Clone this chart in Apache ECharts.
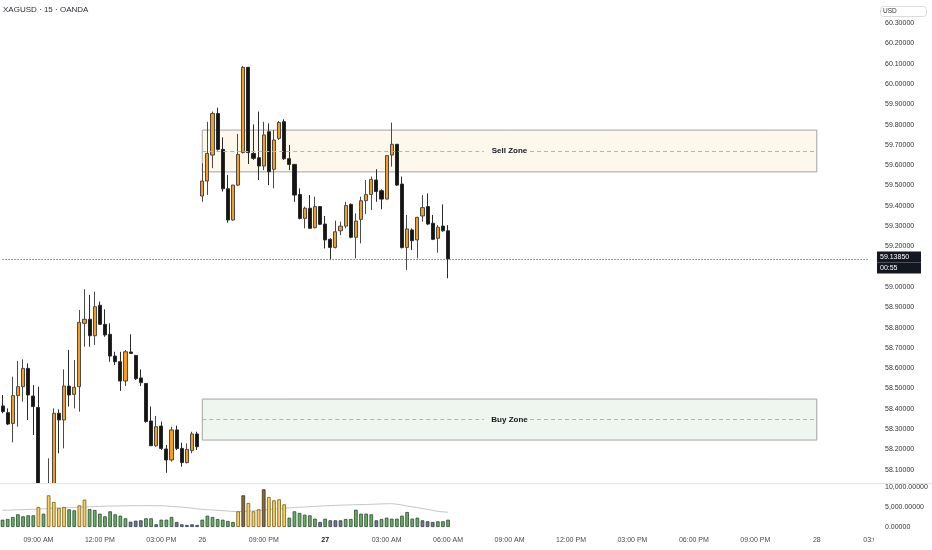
<!DOCTYPE html>
<html>
<head>
<meta charset="utf-8">
<script src="https://cdn.jsdelivr.net/npm/echarts@6/dist/echarts.min.js"></script>
<style>html,body{margin:0;padding:0;background:#fff}#c{width:932px;height:550px}</style>
</head>
<body>
<div id="c"></div>
<script>
// ---------- DATA ----------
// Friday 25th session, 15-minute candles: [open, high, low, close]
const fridayCandles = [
  [58.414, 58.468, 58.378, 58.386], [58.381, 58.402, 58.320, 58.325], [58.328, 58.558, 58.235, 58.465],
  [58.465, 58.636, 58.312, 58.509], [58.509, 58.644, 58.435, 58.599], [58.599, 58.624, 58.345, 58.468],
  [58.463, 58.517, 58.271, 58.411], [58.407, 58.509, 57.900, 57.950], [57.970, 58.030, 57.880, 57.940],
  [57.930, 58.156, 57.880, 57.990], [57.990, 58.402, 57.970, 58.378], [58.378, 58.397, 58.181, 58.345],
  [58.345, 58.594, 58.205, 58.512], [58.512, 58.690, 58.411, 58.468], [58.471, 58.640, 58.402, 58.506],
  [58.509, 58.887, 58.386, 58.826], [58.821, 58.989, 58.706, 58.841], [58.841, 58.961, 58.706, 58.760],
  [58.760, 58.977, 58.714, 58.903], [58.910, 58.928, 58.813, 58.816], [58.816, 58.890, 58.755, 58.764],
  [58.767, 58.821, 58.632, 58.660], [58.660, 58.681, 58.616, 58.632], [58.632, 58.681, 58.488, 58.537],
  [58.537, 58.690, 58.512, 58.681], [58.680, 58.767, 58.670, 58.673], [58.663, 58.665, 58.542, 58.548],
  [58.552, 58.594, 58.512, 58.529], [58.525, 58.526, 58.332, 58.337], [58.340, 58.411, 58.217, 58.218],
  [58.218, 58.365, 58.213, 58.312], [58.315, 58.337, 58.197, 58.205], [58.202, 58.222, 58.085, 58.148],
  [58.148, 58.312, 58.140, 58.296], [58.296, 58.317, 58.197, 58.205], [58.205, 58.233, 58.115, 58.135],
  [58.135, 58.230, 58.131, 58.200], [58.194, 58.287, 58.181, 58.276], [58.276, 58.287, 58.197, 58.213]
];
// Sunday 26th 18:00 onward: [open, high, low, close]
const sundayCandles = [
  [59.448, 59.609, 59.420, 59.522], [59.522, 59.814, 59.453, 59.658], [59.650, 59.864, 59.585, 59.855],
  [59.855, 59.883, 59.672, 59.678], [59.678, 59.737, 59.470, 59.484], [59.484, 59.552, 59.317, 59.330],
  [59.330, 59.503, 59.327, 59.502], [59.502, 59.754, 59.498, 59.653], [59.662, 60.089, 59.658, 60.082],
  [60.082, 60.085, 59.606, 59.662], [59.658, 59.801, 59.626, 59.634], [59.637, 59.864, 59.527, 59.596],
  [59.596, 59.814, 59.576, 59.749], [59.765, 59.806, 59.502, 59.568], [59.580, 59.773, 59.486, 59.724],
  [59.732, 59.818, 59.724, 59.810], [59.814, 59.826, 59.626, 59.632], [59.632, 59.700, 59.576, 59.604],
  [59.604, 59.605, 59.420, 59.453], [59.456, 59.486, 59.333, 59.338], [59.338, 59.396, 59.289, 59.388],
  [59.388, 59.453, 59.288, 59.289], [59.292, 59.445, 59.289, 59.396], [59.396, 59.399, 59.305, 59.309],
  [59.310, 59.350, 59.190, 59.232], [59.235, 59.240, 59.136, 59.195], [59.195, 59.327, 59.190, 59.272],
  [59.277, 59.322, 59.256, 59.300], [59.300, 59.420, 59.289, 59.401], [59.407, 59.412, 59.240, 59.245],
  [59.245, 59.363, 59.141, 59.325], [59.333, 59.445, 59.215, 59.425], [59.425, 59.527, 59.360, 59.455],
  [59.456, 59.544, 59.379, 59.530], [59.527, 59.580, 59.420, 59.470], [59.474, 59.481, 59.383, 59.433],
  [59.433, 59.648, 59.432, 59.647], [59.650, 59.810, 59.593, 59.703], [59.703, 59.704, 59.498, 59.502],
  [59.507, 59.544, 59.190, 59.194], [59.195, 59.355, 59.084, 59.286], [59.281, 59.289, 59.182, 59.228],
  [59.232, 59.346, 59.141, 59.343], [59.350, 59.453, 59.322, 59.391], [59.396, 59.461, 59.305, 59.310],
  [59.314, 59.355, 59.231, 59.235], [59.240, 59.305, 59.169, 59.294], [59.300, 59.407, 59.272, 59.277],
  [59.277, 59.305, 59.043, 59.1385]
];
const fridayVolume = [1830, 2000, 2500, 3170, 2670, 2920, 2920, 5000, 3330, 7920, 6250, 4750, 5000, 4420, 4170, 5420,
  6830, 4500, 4250, 3330, 2670, 3920, 3170, 2830, 2170, 1330, 1580, 1670, 2170, 2170, 670, 1830, 1830, 2500, 1250,
  670, 500, 670, 500];
const sundayVolume = [1830, 2830, 2500, 2000, 1830, 1500, 1250, 3920, 7920, 6000, 3920, 4420, 9420, 7500, 6670, 6920,
  5670, 2330, 3920, 3500, 3080, 2920, 2080, 1250, 2080, 1670, 1670, 1670, 2000, 2000, 4330, 3330, 3330, 3170, 1670,
  2000, 2330, 2080, 2080, 2830, 3750, 2080, 2330, 1670, 1420, 1250, 1420, 1420, 1830];
// volume class: g normal, y high, b very high, s low
const fridayVolumeClass = ['g','g','g','g','g','g','g','y','g','y','y','y','y','g','g','y','y','g','g','g','g','g','g',
  'g','g','s','s','s','g','g','s','g','g','g','s','s','s','s','s'];
const sundayVolumeClass = ['g','g','g','g','g','g','g','y','b','y','y','y','b','y','y','y','y','g','g','g','g','g','g',
  's','g','s','s','s','g','g','g','g','g','g','s','g','g','g','g','g','g','g','g','s','s','s','g','g','g'];
const volumeAverage = [4170, 4210, 4260, 4300, 4340, 4380, 4420, 4480, 4550, 4620, 4690, 4760, 4800, 4850, 4900, 4950,
  5000, 5060, 5110, 5160, 5190, 5220, 5250, 5280, 5300, 5320, 5330, 5330, 5330, 5330, 5330, 5320, 5250, 5150, 5050,
  4980, 4850, 4700, 4550, 4420, 4330, 4250, 4170, 4080, 3980, 3880, 3850, 3900, 3950, 4050, 4150, 4250, 4380, 4500,
  4600, 4700, 4800, 4870, 4930, 5000, 5080, 5150, 5220, 5280, 5330, 5400, 5450, 5500, 5530, 5570, 5600, 5630, 5670,
  5720, 5770, 5820, 5830, 5700, 5500, 5250, 5050, 4850, 4620, 4400, 4150, 3900, 3780, 3700];
const priceTicks = [58.1, 58.2, 58.3, 58.4, 58.5, 58.6, 58.7, 58.8, 58.9, 59.0, 59.2, 59.3, 59.4, 59.5, 59.6, 59.7,
  59.8, 59.9, 60.0, 60.1, 60.2, 60.3];
const tickAt = ['25 09:00', '25 12:00', '25 15:00', '26 18:00', '26 21:00', '27 00:00', '27 03:00', '27 06:00',
  '27 09:00', '27 12:00', '27 15:00', '27 18:00', '27 21:00', '28 00:00', '28 03:00'];
const tickText = ['09:00 AM', '12:00 PM', '03:00 PM', '26', '09:00 PM', '27', '03:00 AM', '06:00 AM',
  '09:00 AM', '12:00 PM', '03:00 PM', '06:00 PM', '09:00 PM', '28', '03:00 AM'];
const sellZone = [59.773, 59.567];
const buyZone = [58.448, 58.246];
const zoneFrom = '26 18:00', zoneTo = '28 00:00';
const zoneLabelGap = ['27 07:45', '27 10:00'];
const lastPrice = 59.1385;
const countdown = '00:55';
const priceRange = [58.0345, 60.4138];

// ---------- CATEGORIES (15-minute slots) ----------
function makeTimes(day, startMin, count) {
  const out = [];
  for (let i = 0; i < count; i++) {
    const m = startMin + 15 * i;
    const d = day + Math.floor(m / 1440);
    const mm = m % 1440;
    out.push(d + ' ' + String(Math.floor(mm / 60)).padStart(2, '0') + ':' + String(mm % 60).padStart(2, '0'));
  }
  return out;
}
const categories = makeTimes(25, 7 * 60 + 15, 39).concat(makeTimes(26, 18 * 60, 143));

// ---------- BUILD ----------
const allCandles = fridayCandles.concat(sundayCandles);
const candleData = allCandles.map(r => [r[0], r[3], r[2], r[1]]);
const volStyle = {
  g: { color: '#68ad68', borderColor: '#2e4a2e' },
  y: { color: '#fcd15c', borderColor: '#6e5b22' },
  b: { color: '#8d6b3c', borderColor: '#3b2c18' },
  s: { color: '#6e7c8e', borderColor: '#333b46' }
};
const volClass = fridayVolumeClass.concat(sundayVolumeClass);
const volData = fridayVolume.concat(sundayVolume).map((v, i) => ({
  value: v, itemStyle: Object.assign({ borderWidth: 0.8 }, volStyle[volClass[i]])
}));
const tickMap = {};
tickAt.forEach((c, i) => { tickMap[c] = tickText[i]; });

function zone(range, fill, label) {
  const mid = (range[0] + range[1]) / 2;
  return {
    area: [{ coord: [zoneFrom, range[0]], itemStyle: { color: fill, borderColor: '#a3a3a3', borderWidth: 1 },
             label: { show: true, position: 'inside', formatter: label, fontSize: 8, fontWeight: 'bold', color: '#131722' } },
           { coord: [zoneTo, range[1]] }],
    lines: [[{ coord: [zoneFrom, mid] }, { coord: [zoneLabelGap[0], mid] }],
            [{ coord: [zoneLabelGap[1], mid] }, { coord: [zoneTo, mid] }]]
  };
}
const sz = zone(sellZone, '#fdf8ec', 'Sell Zone');
const bz = zone(buyZone, '#eff6ef', 'Buy Zone');

const font = 'Liberation Sans';
const chart = echarts.init(document.getElementById('c'), null, { renderer: 'canvas' });
chart.setOption({
  animation: false,
  backgroundColor: '#ffffff',
  textStyle: { fontFamily: font },
  title: [
    { text: 'XAGUSD · 15 · OANDA', left: 3, top: 6, padding: 0,
      textStyle: { fontSize: 8, fontWeight: 'normal', color: '#2a2e39', fontFamily: font } },
    { text: 'USD', left: 880, top: 6, padding: [2, 30, 2, 3], borderColor: '#dcdcdc', borderWidth: 1, borderRadius: 3,
      textStyle: { fontSize: 6.5, fontWeight: 'normal', color: '#333', fontFamily: font } }
  ],
  grid: [
    { left: -1, right: 0, top: 0, bottom: 67 },
    { left: -1, right: 0, top: 483, bottom: 23 }
  ],
  xAxis: [
    { type: 'category', gridIndex: 0, data: categories, boundaryGap: true, z: 10,
      axisLine: { show: true, lineStyle: { color: '#e3e3e3', width: 1 } },
      axisTick: { show: false }, axisLabel: { show: false }, splitLine: { show: false } },
    { type: 'category', gridIndex: 1, data: categories, boundaryGap: true,
      axisLine: { show: false }, axisTick: { show: false }, splitLine: { show: false },
      axisLabel: {
        margin: 10, fontSize: 7, color: '#4a4a4a', fontFamily: font,
        interval: (idx, val) => tickMap[val] !== undefined,
        formatter: val => tickMap[val] === '27' ? '{b|27}' : (tickMap[val] || ''),
        rich: { b: { fontSize: 7, fontWeight: 'bold', color: '#131722', fontFamily: font } }
      } }
  ],
  yAxis: [
    { type: 'value', gridIndex: 0, position: 'right', offset: -62, min: priceRange[0], max: priceRange[1], scale: true,
      axisLine: { show: false }, axisTick: { show: false }, splitLine: { show: false },
      axisLabel: { margin: 15, fontSize: 7, color: '#333', fontFamily: font, customValues: priceTicks,
        formatter: v => v.toFixed(5) } },
    { type: 'value', gridIndex: 1, position: 'right', offset: -62, min: 0, max: 11000, interval: 5000, z: 10,
      axisLine: { show: false }, axisTick: { show: false }, splitLine: { show: false },
      axisLabel: { margin: 15, fontSize: 7, color: '#333', fontFamily: font,
        formatter: v => v.toLocaleString('en-US', { minimumFractionDigits: 5, maximumFractionDigits: 5 }) } }
  ],
  series: [
    {
      type: 'candlestick', xAxisIndex: 0, yAxisIndex: 0, data: candleData, barWidth: 3.6, clip: true, z: 2,
      itemStyle: { color: '#f99c1c', color0: '#141414', borderColor: '#4a4a4a', borderColor0: '#2a2a2a', borderWidth: 1 },
      markArea: { silent: true, data: [sz.area, bz.area] },
      markLine: {
        silent: true, symbol: ['none', 'none'],
        data: sz.lines.concat(bz.lines).map(l => [
          Object.assign({ lineStyle: { type: [4, 3], color: '#b3b3b3', width: 1 }, label: { show: false } }, l[0]), l[1]
        ]).concat([[
          { coord: [categories[0], lastPrice], lineStyle: { type: [1, 2], color: '#3a3a3a', width: 1 },
            label: {
              show: true, position: 'end', distance: 9, padding: [7, 0, 0, 0],
              formatter: '{p|' + lastPrice.toFixed(5) + '}\n{t|' + countdown + '}',
              rich: {
                p: { backgroundColor: '#131722', color: '#fff', fontSize: 7, width: 38, height: 11, lineHeight: 11, padding: [0, 3], fontFamily: font },
                t: { backgroundColor: '#131722', color: '#fff', fontSize: 7, width: 38, height: 11, lineHeight: 11, padding: [0, 3], fontFamily: font }
              }
            } },
          { coord: [categories[169], lastPrice] }
        ]])
      }
    },
    {
      type: 'line', xAxisIndex: 1, yAxisIndex: 1, data: volumeAverage, symbol: 'none', z: 4,
      lineStyle: { color: '#c6c6c6', width: 1 }
    },
    {
      type: 'bar', xAxisIndex: 1, yAxisIndex: 1, data: volData, barWidth: 3.6, z: 5
    }
  ],
  graphic: [
    // volume pane background: hides candle parts that run below the price pane
    { type: 'rect', shape: { x: 0, y: 483.5, width: 870, height: 45 }, style: { fill: '#ffffff' }, z: 3, silent: true },
    // price-scale column clips the last time label
    { type: 'rect', shape: { x: 874, y: 532, width: 58, height: 18 }, style: { fill: '#ffffff' }, z: 100, silent: true }
  ]
});
</script>
</body>
</html>
